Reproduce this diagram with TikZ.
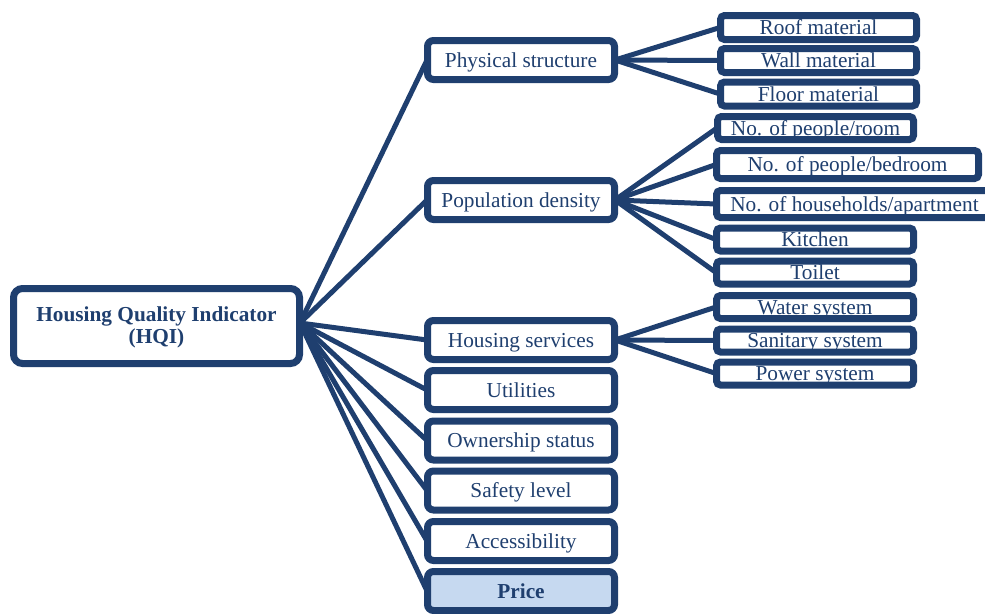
\documentclass[tikz,border=0pt]{standalone}
\usepackage{fontspec}
\setmainfont{Liberation Serif}
\usetikzlibrary{shadows,backgrounds}
\definecolor{navy}{HTML}{1F3F6F}
\definecolor{pricefill}{HTML}{C6D9F0}
\begin{document}
\begin{tikzpicture}[x=1pt,y=-1pt,
  base/.style={draw=navy, line width=7pt, fill=white, rounded corners=6pt, inner sep=0pt,
    text=navy, font=\fontsize{21.3}{22}\selectfont,
    drop shadow={shadow xshift=1.5pt, shadow yshift=-2.5pt, opacity=0.3}},
  box/.style={base, text height=14.5pt, text depth=0pt},
  mid/.style={box, minimum width=187pt, minimum height=39pt},
  leaf/.style={box, rounded corners=4pt, minimum height=24pt},
  link/.style={draw=navy, line width=5pt},
]
\useasboundingbox (0,0) rectangle (985,613);

% root
\node[base, minimum width=286pt, minimum height=75pt, rounded corners=9pt] (hqi) at (156.5,326) {};
\node[text=navy, inner sep=0pt, align=center, font=\fontsize{21.3}{22}\selectfont\bfseries] (hqitext) at (156.5,327) {Housing Quality Indicator\\(HQI)};

% middle level
\node[mid] (ps) at (521,60) {Physical structure};
\node[mid] (pd) at (521,200) {Population density};
\node[mid] (hs) at (521,340) {Housing services};
\node[mid] (ut) at (521,390) {Utilities};
\node[mid] (os) at (521,440.5) {Ownership status};
\node[mid] (sl) at (521,490.5) {Safety level};
\node[mid] (ac) at (521,541) {Accessibility};
\node[mid, fill=pricefill, font=\fontsize{21.3}{22}\selectfont\bfseries] (pr) at (521,591) {Price};

% leaves
\node[leaf, minimum width=196pt] (roof) at (818.5,27.5) {Roof material};
\node[leaf, minimum width=196pt] (wall) at (818.5,60.5) {Wall material};
\node[leaf, minimum width=196pt] (floor) at (818.5,94) {Floor material};
\node[leaf, minimum width=196pt, minimum height=23pt] (room) at (815.5,128) {No. of people/room};
\node[leaf, minimum width=262pt, minimum height=28pt] (bed) at (847.5,164.5) {No. of people/bedroom};
\node[leaf, minimum width=276pt, minimum height=27pt] (hh) at (854.5,204) {No. of households/apartment};
\node[leaf, minimum width=197pt, minimum height=23pt] (kit) at (815,239.5) {Kitchen};
\node[leaf, minimum width=197pt, minimum height=23pt] (toi) at (815,272.5) {Toilet};
\node[leaf, minimum width=197pt, minimum height=23pt] (wat) at (815,307) {Water system};
\node[leaf, minimum width=197pt, minimum height=23pt] (san) at (815,340.5) {Sanitary system};
\node[leaf, minimum width=197pt, minimum height=23pt] (pow) at (815,373.5) {Power system};

\begin{scope}[on background layer]
  \coordinate (hub) at ([xshift=-3pt,yshift=3pt]hqi.east);
  \foreach \t in {ps,pd,hs,ut,os,sl,ac,pr}
    \draw[link] (hub) -- ([xshift=3pt]\t.west);
  \foreach \t in {roof,wall,floor}
    \draw[link] ([xshift=-3pt]ps.east) -- ([xshift=3pt]\t.west);
  \foreach \t in {room,bed,hh,kit,toi}
    \draw[link] ([xshift=-3pt]pd.east) -- ([xshift=3pt]\t.west);
  \foreach \t in {wat,san,pow}
    \draw[link] ([xshift=-3pt]hs.east) -- ([xshift=3pt]\t.west);
\end{scope}
\end{tikzpicture}
\end{document}
